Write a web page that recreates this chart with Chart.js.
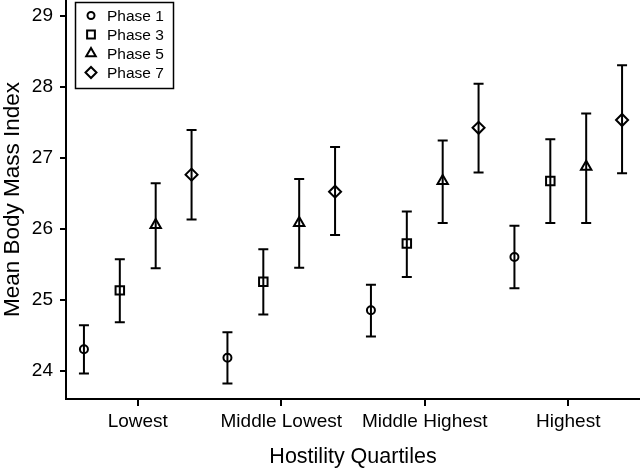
<!DOCTYPE html>
<html>
<head>
<meta charset="utf-8">
<script src="https://cdn.jsdelivr.net/npm/chart.js@4"></script>
<style>
  html, body { margin: 0; padding: 0; background: #fff; }
  canvas { display: block; }
</style>
</head>
<body>
<canvas id="bmiChart" width="640" height="470"></canvas>
<script>
// Hostility quartiles and BMI by phase (mean + lower/upper CI)
const categories = ['Lowest', 'Middle Lowest', 'Middle Highest', 'Highest'];
const phaseNames = ['Phase 1', 'Phase 3', 'Phase 5', 'Phase 7'];
const yTicks = [24, 25, 26, 27, 28, 29];

const phase1Mean = [24.30, 24.18, 24.85, 25.60];
const phase1Low  = [23.96, 23.82, 24.48, 25.16];
const phase1High = [24.64, 24.54, 25.21, 26.04];

const phase3Mean = [25.13, 25.25, 25.79, 26.67];
const phase3Low  = [24.68, 24.79, 25.32, 26.08];
const phase3High = [25.57, 25.71, 26.24, 27.26];

const phase5Mean = [26.05, 26.08, 26.67, 26.87];
const phase5Low  = [25.44, 25.45, 26.08, 26.08];
const phase5High = [26.64, 26.70, 27.24, 27.62];

const phase7Mean = [26.76, 26.52, 27.42, 27.53];
const phase7Low  = [26.13, 25.91, 26.79, 26.78];
const phase7High = [27.39, 27.15, 28.04, 28.30];

const means = [phase1Mean, phase3Mean, phase5Mean, phase7Mean];
const lows = [phase1Low, phase3Low, phase5Low, phase7Low];
const highs = [phase1High, phase3High, phase5High, phase7High];

// dodge within each quartile
const dodge = [-0.375, -0.125, 0.125, 0.375];
const styles = ['circle', 'rect', 'triangle', 'rectRot'];
const radii = [4, 6, 6, 6];

const FONT = '"Liberation Sans", Arial, sans-serif';

const datasets = phaseNames.map((name, p) => ({
    label: name,
    data: means[p].map((v, i) => ({ x: i + 1 + dodge[p], y: v, lo: lows[p][i], hi: highs[p][i] })),
    pointStyle: styles[p],
    pointRadius: radii[p],
    pointHoverRadius: radii[p],
    pointBorderWidth: 2,
    borderColor: '#000',
    backgroundColor: 'rgba(0,0,0,0)',
    showLine: false,
    clip: false
}));

const errorBars = {
    id: 'errorBars',
    afterDatasetsDraw(chart) {
        const { ctx, scales: { x, y } } = chart;
        ctx.save();
        ctx.strokeStyle = '#000';
        ctx.lineWidth = 2;
        chart.data.datasets.forEach(ds => {
            ds.data.forEach(d => {
                const px = x.getPixelForValue(d.x);
                const yl = y.getPixelForValue(d.lo);
                const yh = y.getPixelForValue(d.hi);
                ctx.beginPath();
                ctx.moveTo(px, yl); ctx.lineTo(px, yh);
                ctx.moveTo(px - 5, yl); ctx.lineTo(px + 5, yl);
                ctx.moveTo(px - 5, yh); ctx.lineTo(px + 5, yh);
                ctx.stroke();
            });
        });
        ctx.restore();
    }
};

const boxLegend = {
    id: 'boxLegend',
    afterDraw(chart) {
        const ctx = chart.ctx;
        ctx.save();
        ctx.strokeStyle = '#000';
        ctx.lineWidth = 1.5;
        ctx.strokeRect(75.5, 2.5, 98, 86);
        ctx.textBaseline = 'middle';
        chart.data.datasets.forEach((ds, i) => {
            const cy = 15.5 + i * 19;
            ctx.lineWidth = 2;
            ctx.fillStyle = 'rgba(0,0,0,0)';
            Chart.helpers.drawPoint(ctx, {
                pointStyle: ds.pointStyle,
                radius: i === 0 ? 3.5 : ds.pointRadius - 0.5,
                borderWidth: 2
            }, 91, cy);
            ctx.fillStyle = '#000';
            ctx.font = '15.5px ' + FONT;
            ctx.fillText(ds.label, 107, cy + 1);
        });
        ctx.restore();
    }
};

new Chart(document.getElementById('bmiChart').getContext('2d'), {
    type: 'scatter',
    data: { datasets },
    options: {
        responsive: false,
        animation: false,
        devicePixelRatio: 1,
        layout: { padding: 0, autoPadding: false },
        plugins: {
            legend: { display: false },
            tooltip: { enabled: false }
        },
        scales: {
            x: {
                type: 'linear',
                min: 0.5,
                max: 4.5,
                afterBuildTicks: s => { s.ticks = categories.map((c, i) => ({ value: i + 1 })); },
                afterFit: s => { s.height = 71; s.paddingLeft = 0; s.paddingRight = 0; },
                ticks: {
                    color: '#000',
                    font: { family: FONT, size: 19 },
                    padding: 4,
                    maxRotation: 0,
                    autoSkip: false,
                    callback: v => categories[v - 1]
                },
                grid: { drawOnChartArea: false, drawTicks: true, tickLength: 7, color: '#000', lineWidth: 2 },
                border: { display: true, color: '#000', width: 2 },
                title: {
                    display: true,
                    text: 'Hostility Quartiles',
                    color: '#000',
                    font: { family: FONT, size: 21.5 },
                    padding: 0
                }
            },
            y: {
                min: 23.6,
                max: 29.22,
                afterBuildTicks: s => { s.ticks = yTicks.map(v => ({ value: v })); },
                afterFit: s => { s.width = 66; s.paddingTop = 0; s.paddingBottom = 0; },
                ticks: {
                    color: '#000',
                    font: { family: FONT, size: 19 },
                    padding: 7
                },
                grid: { drawOnChartArea: false, drawTicks: true, tickLength: 6, color: '#000', lineWidth: 2 },
                border: { display: true, color: '#000', width: 2 },
                title: {
                    display: true,
                    text: 'Mean Body Mass Index',
                    color: '#000',
                    font: { family: FONT, size: 22.5 },
                    padding: { top: -1, bottom: 0 }
                }
            }
        }
    },
    plugins: [errorBars, boxLegend]
});
</script>
</body>
</html>
